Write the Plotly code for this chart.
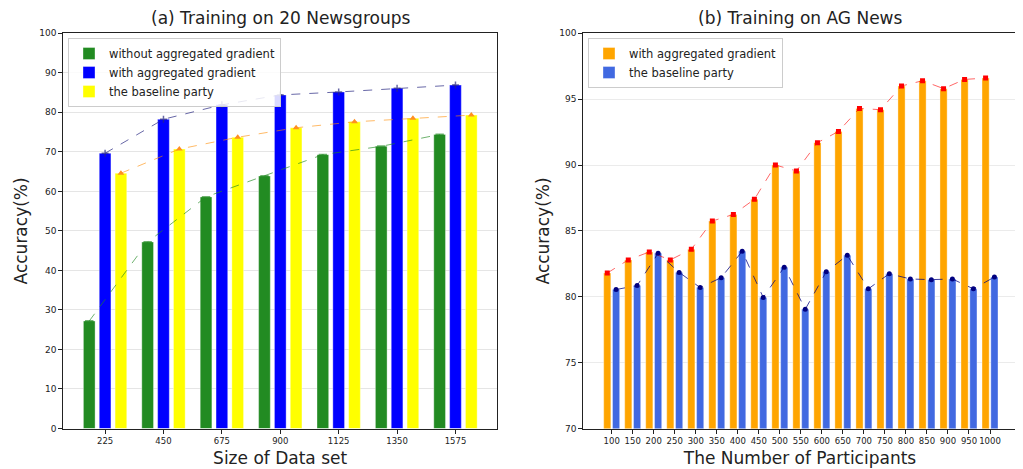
import plotly.graph_objects as go
import numpy as np

# ---- Data: (a) 20 Newsgroups ----
sizes = [225, 450, 675, 900, 1125, 1350, 1575]
acc_without = [27.2, 47.2, 58.6, 63.9, 69.3, 71.4, 74.4]
acc_with = [69.65, 78.25, 81.9, 84.4, 85.15, 86.1, 86.9]
acc_baseline_a = [64.6, 70.7, 73.7, 76.1, 77.6, 78.5, 79.3]
size_ticks = ["225", "450", "675", "900", "1125", "1350", "1575"]

# ---- Data: (b) AG News ----
participants = [100, 150, 200, 250, 300, 350, 400, 450, 500, 550,
                600, 650, 700, 750, 800, 850, 900, 950, 1000]
acc_agg_b = [81.8, 82.8, 83.4, 82.8, 83.6, 85.75, 86.25, 87.4, 90.0, 89.55,
             91.7, 92.55, 94.3, 94.2, 96.0, 96.4, 95.8, 96.5, 96.6]
acc_base_b = [80.55, 80.85, 83.3, 81.85, 80.7, 81.45, 83.45, 79.95, 82.25, 79.05,
              81.9, 83.15, 80.6, 81.75, 81.35, 81.3, 81.35, 80.6, 81.5]

FONT = "DejaVu Sans"
fig = go.Figure()

# ---- left panel geometry (data units) ----
wa = 45      # bar width
da = 61      # spacing between bars in group
xa = np.array(sizes, dtype=float)

left_bars = [
    (acc_without, "without aggregated gradient", "#228B22", -da),
    (acc_with, "with aggregated gradient", "#0000FF", 0),
    (acc_baseline_a, "the baseline party", "#FFFF00", da),
]
for vals, name, col, sh in left_bars:
    fig.add_trace(go.Bar(
        x=xa, y=vals, name=name, width=wa, offset=sh - wa / 2,
        marker=dict(color=col, line=dict(color="rgba(255,255,255,0.35)", width=1)),
        xaxis="x", yaxis="y", legend="legend",
    ))

left_lines = [
    (acc_without, -da, "rgba(34,139,34,0.65)", dict(symbol="line-ew-open", size=6, line=dict(color="#0b5a0b", width=2))),
    (acc_with, 0, "rgba(40,40,130,0.7)", dict(symbol="cross-thin-open", size=5, line=dict(color="#1a1a5e", width=1.5))),
    (acc_baseline_a, da, "rgba(255,140,0,0.6)", dict(symbol="triangle-up", size=6, color="#ff9020")),
]
for vals, sh, lc, mk in left_lines:
    fig.add_trace(go.Scatter(
        x=xa + sh, y=vals, mode="lines+markers",
        line=dict(color=lc, width=1, dash="dash"), marker=mk,
        showlegend=False, hoverinfo="skip", xaxis="x", yaxis="y",
    ))

# ---- right panel geometry ----
wb = 17
db = 10.5
xb = np.array(participants, dtype=float)

fig.add_trace(go.Bar(
    x=xb, y=acc_agg_b, name="with aggregated gradient", width=wb, offset=-db - wb / 2,
    marker=dict(color="#FFA500", line=dict(color="rgba(255,255,255,0.35)", width=1)),
    xaxis="x2", yaxis="y2", legend="legend2",
))
fig.add_trace(go.Bar(
    x=xb, y=acc_base_b, name="the baseline party", width=wb, offset=db - wb / 2,
    marker=dict(color="#4169E1", line=dict(color="rgba(255,255,255,0.35)", width=1)),
    xaxis="x2", yaxis="y2", legend="legend2",
))
fig.add_trace(go.Scatter(
    x=xb - db, y=acc_agg_b, mode="lines+markers",
    line=dict(color="rgba(255,0,0,0.6)", width=1, dash="dash"),
    marker=dict(symbol="square", size=5, color="#ff0000"),
    showlegend=False, hoverinfo="skip", xaxis="x2", yaxis="y2",
))
fig.add_trace(go.Scatter(
    x=xb + db, y=acc_base_b, mode="lines+markers",
    line=dict(color="rgba(0,0,128,0.75)", width=1, dash="dash"),
    marker=dict(symbol="circle", size=5, color="#000080"),
    showlegend=False, hoverinfo="skip", xaxis="x2", yaxis="y2",
))

# page body has an 8px margin: size the figure so it fills the rest of the window
OFF = 8
W, H = 1023 - OFF, 469 - OFF
def px_x(p):
    return (p - OFF) / W
def px_y(p):
    return (H - (p - OFF)) / H

ybot, ytop = px_y(428.5), px_y(33.3)
dom_a = [px_x(63.3), px_x(497)]
dom_b = [px_x(583.3), px_x(1016.7)]

axis_common = dict(
    showline=True, linecolor="#222", linewidth=1.2, mirror=True,
    ticks="outside", ticklen=4, tickwidth=1, tickcolor="#222",
    tickfont=dict(family=FONT, size=9, color="#222"), zeroline=False,
    automargin=False,
)
xtick_font = dict(family=FONT, size=8.5, color="#222")
legend_common = dict(
    xanchor="left", yanchor="top",
    bgcolor="rgba(255,255,255,0.85)", bordercolor="#cccccc", borderwidth=1,
    font=dict(family=FONT, size=11.5, color="#222"), tracegroupgap=0,
    itemwidth=30,
)

fig.update_layout(
    width=W, height=H,
    margin=dict(l=0, r=0, t=0, b=0, autoexpand=False),
    plot_bgcolor="white", paper_bgcolor="white",
    barmode="overlay",
    font=dict(family=FONT, color="#222"),
    xaxis=dict(domain=dom_a, range=[64, 1735], tickvals=sizes, ticktext=size_ticks,
               showgrid=False, anchor="y", tickangle=0,
               title=dict(text="Size of Data set", font=dict(family=FONT, size=17), standoff=7),
               **axis_common),
    yaxis=dict(domain=[ybot, ytop], range=[0, 100], dtick=10, anchor="x",
               showgrid=True, gridcolor="rgba(0,0,0,0.1)", gridwidth=1,
               title=dict(text="Accuracy(%)", font=dict(family=FONT, size=17), standoff=7),
               **axis_common),
    xaxis2=dict(domain=dom_b, range=[32.5, 1063.5], tickvals=participants,
                showgrid=False, anchor="y2", tickangle=0,
                title=dict(text="The Number of Participants", font=dict(family=FONT, size=17), standoff=7),
                **axis_common),
    yaxis2=dict(domain=[ybot, ytop], range=[70, 100], dtick=5, anchor="x2",
                showgrid=True, gridcolor="rgba(0,0,0,0.08)", gridwidth=1,
                title=dict(text="Accuracy(%)", font=dict(family=FONT, size=17), standoff=5),
                **axis_common),
    legend=dict(x=px_x(68), y=px_y(38), **legend_common),
    legend2=dict(x=px_x(588), y=px_y(38), **legend_common),
    annotations=[
        dict(text="(a) Training on 20 Newsgroups", x=(dom_a[0] + dom_a[1]) / 2, y=px_y(18),
             xref="paper", yref="paper", showarrow=False, xanchor="center", yanchor="middle",
             font=dict(family=FONT, size=17, color="#222")),
        dict(text="(b) Training on AG News", x=(dom_b[0] + dom_b[1]) / 2, y=px_y(18),
             xref="paper", yref="paper", showarrow=False, xanchor="center", yanchor="middle",
             font=dict(family=FONT, size=17, color="#222")),
    ],
)
fig.update_xaxes(tickfont=xtick_font)

fig.write_html("out.html")
